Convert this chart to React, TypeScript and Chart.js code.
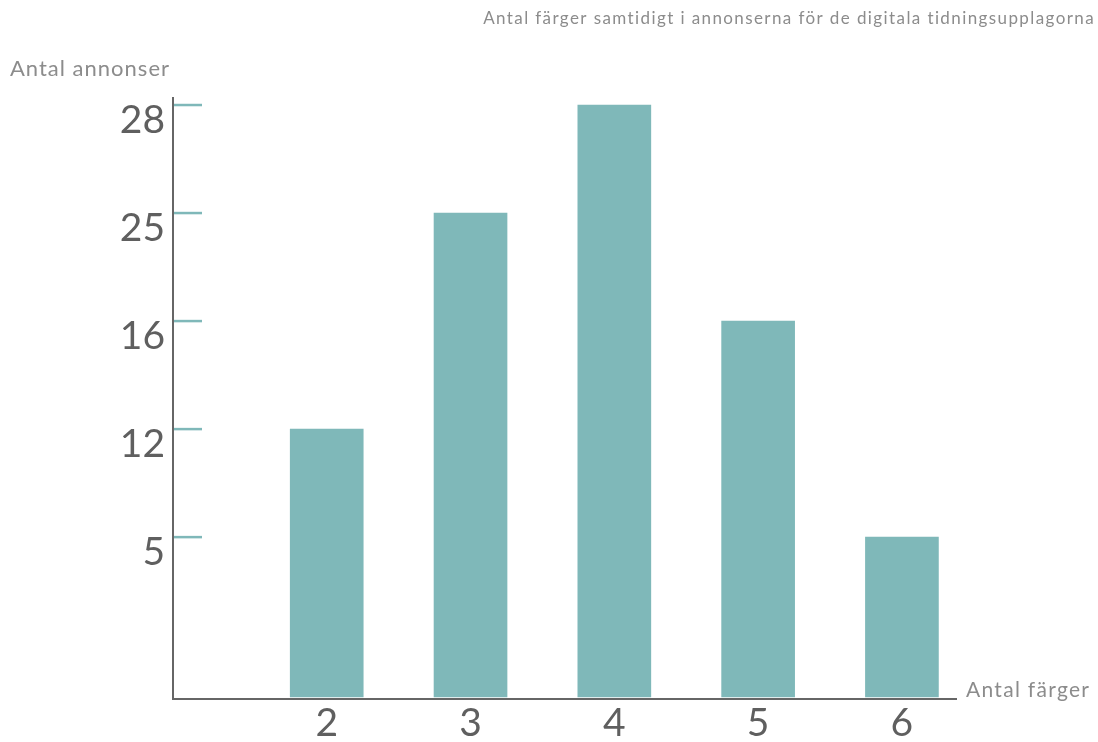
import React, { useEffect, useRef } from 'react';
import { Chart, registerables, LinearScale } from 'chart.js';

Chart.register(...registerables);

// ---- Data ----
const colorCounts = [2, 3, 4, 5, 6];
const adCounts = [12, 25, 28, 16, 5];
const yTickValues = [5, 12, 16, 25, 28];

const chartTitle = 'Antal färger samtidigt i annonserna för de digitala tidningsupplagorna';
const yAxisTitle = 'Antal annonser';
const xAxisTitle = 'Antal färger';

// ---- Styles ----
const barColor = '#7fb8b9';
const axisColor = '#666666';
const tickLabelColor = '#5f5f5f';
const mutedText = '#8c8c8c';
const fontFamily = 'Lato, "Open Sans", sans-serif';

// A value scale whose ticks are evenly spaced by rank (as in the reference),
// with linear interpolation between neighbouring tick values.
class RankScale extends LinearScale {
  static id = 'rank';
  static defaults = {};

  _sortedTicks(): number[] {
    return ((this.options as any).tickValues || []).slice().sort((a: number, b: number) => a - b);
  }

  buildTicks() {
    return this._sortedTicks().map((v) => ({ value: v }));
  }

  _rankOf(value: number): number {
    const opts: any = this.options;
    const vals = this._sortedTicks();
    const gap: number = opts.baseGap ?? 1;
    if (!vals.length) return 0;
    if (value <= vals[0]) return (value / vals[0]) * gap;
    for (let i = 0; i < vals.length - 1; i++) {
      if (value <= vals[i + 1]) {
        return gap + i + (value - vals[i]) / (vals[i + 1] - vals[i]);
      }
    }
    const last = vals.length - 1;
    const step = last > 0 ? vals[last] - vals[last - 1] : vals[last];
    return gap + last + (value - vals[last]) / step;
  }

  _totalRank(): number {
    const opts: any = this.options;
    const n = (opts.tickValues || []).length;
    return (opts.baseGap ?? 1) + n - 1 + (opts.headroom ?? 0);
  }

  getPixelForValue(value: number) {
    if (value === null || value === undefined || isNaN(value)) return NaN;
    const opts: any = this.options;
    const inset: number = opts.baseInset ?? 0;
    const bottom = this.bottom - inset;
    const r = this._rankOf(value) / this._totalRank();
    return bottom - r * (bottom - this.top);
  }

  getValueForPixel(pixel: number) {
    const opts: any = this.options;
    const inset: number = opts.baseInset ?? 0;
    const bottom = this.bottom - inset;
    const rank = ((bottom - pixel) / (bottom - this.top)) * this._totalRank();
    const vals = this._sortedTicks();
    const gap: number = opts.baseGap ?? 1;
    if (rank <= gap) return (rank / gap) * vals[0];
    const i = Math.min(Math.floor(rank - gap), vals.length - 2);
    const f = rank - gap - i;
    return vals[i] + f * (vals[i + 1] - vals[i]);
  }
}
Chart.register(RankScale as any);

const tickMarkPlugin = {
  id: 'tealTickMarks',
  afterDatasetsDraw(chart: any) {
    const y = chart.scales.y;
    const { ctx, chartArea } = chart;
    ctx.save();
    ctx.strokeStyle = barColor;
    ctx.lineWidth = 2.5;
    y.ticks.forEach((t: any) => {
      const py = y.getPixelForValue(t.value);
      ctx.beginPath();
      ctx.moveTo(chartArea.left + 1, py);
      ctx.lineTo(chartArea.left + 29, py);
      ctx.stroke();
    });
    ctx.restore();
  },
};

const textPlugin = {
  id: 'chartTexts',
  afterDraw(chart: any) {
    const { ctx, chartArea, width } = chart;
    ctx.save();
    ctx.fillStyle = mutedText;
    ctx.textBaseline = 'middle';

    ctx.font = `17px ${fontFamily}`;
    (ctx as any).letterSpacing = '1.4px';
    ctx.textAlign = 'right';
    ctx.fillText(chartTitle, width - 3, 19);

    ctx.font = `22px ${fontFamily}`;
    (ctx as any).letterSpacing = '1px';
    ctx.textAlign = 'left';
    ctx.fillText(yAxisTitle, 10, 69);

    ctx.font = `21px ${fontFamily}`;
    (ctx as any).letterSpacing = '1.3px';
    ctx.fillText(xAxisTitle, chartArea.right + 10, chartArea.bottom - 9);
    ctx.restore();
  },
};

export default function App() {
  const canvasRef = useRef<HTMLCanvasElement | null>(null);

  useEffect(() => {
    document.body.style.margin = '0';
    const canvas = canvasRef.current;
    if (!canvas) return;

    const chart = new Chart(canvas, {
      type: 'bar',
      data: {
        datasets: [
          {
            label: yAxisTitle,
            data: colorCounts.map((c, i) => ({ x: c, y: adCounts[i] })),
            backgroundColor: barColor,
            borderWidth: 0,
            barThickness: 73,
          },
        ],
      },
      options: {
        animation: false,
        responsive: true,
        maintainAspectRatio: false,
        devicePixelRatio: 1,
        layout: { padding: { top: 98, right: 142, bottom: 0, left: 0 } },
        plugins: {
          legend: { display: false },
          tooltip: { enabled: false },
          title: { display: false },
        },
        scales: {
          x: {
            type: 'linear',
            offset: false,
            min: 0.931,
            max: 6.376,
            afterBuildTicks: (s: any) => {
              s.ticks = colorCounts.map((v) => ({ value: v }));
            },
            afterFit: (s: any) => {
              s.height = 43;
            },
            grid: { display: false, drawTicks: false, offset: false },
            border: { display: true, color: axisColor, width: 2 },
            ticks: {
              font: { family: fontFamily, size: 39, lineHeight: 1 },
              color: tickLabelColor,
              padding: 5,
              autoSkip: false,
              maxRotation: 0,
            },
          },
          y: {
            type: 'rank' as any,
            tickValues: yTickValues,
            baseGap: 1.48,
            headroom: 0.065,
            baseInset: 2,
            afterFit: (s: any) => {
              s.width = 173;
            },
            grid: { display: false, drawTicks: false },
            border: { display: true, color: axisColor, width: 2 },
            ticks: {
              font: { family: fontFamily, size: 39, lineHeight: 1 },
              color: tickLabelColor,
              padding: 8,
              labelOffset: 15,
              autoSkip: false,
            },
          } as any,
        },
      },
      plugins: [tickMarkPlugin, textPlugin],
    } as any);

    return () => chart.destroy();
  }, []);

  return (
    <div style={{ width: 1098, height: 742, position: 'relative' }}>
      <canvas ref={canvasRef} />
    </div>
  );
}
